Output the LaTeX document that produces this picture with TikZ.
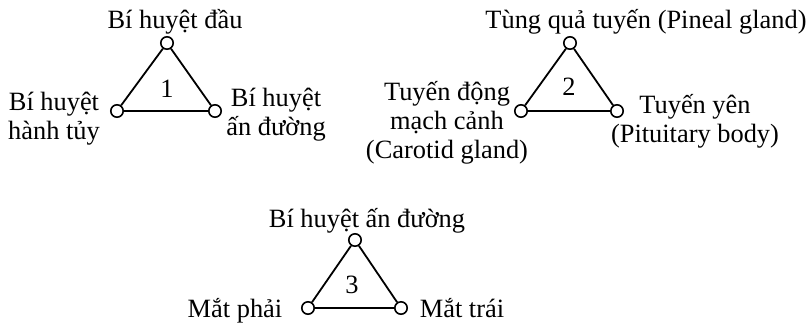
\documentclass[tikz,border=0pt]{standalone}
\usepackage{fontspec}
\setmainfont{Liberation Serif}
\begin{document}
\begin{tikzpicture}[x=0.5pt,y=-0.5pt,
  vtx/.style={circle,draw,line width=0.8pt,minimum size=6.2pt,inner sep=0pt,fill=white},
  edge/.style={line width=0.9pt},
  lbl/.style={font=\fontsize{13.2}{14.5}\selectfont,inner sep=0pt,anchor=base,align=center}]
\useasboundingbox (0,0) rectangle (812,323);
% Triangle 1
\node[vtx] (a1) at (167,43) {};
\node[vtx] (b1) at (117,111) {};
\node[vtx] (c1) at (215,111) {};
\draw[edge] (a1) -- (b1) (b1) -- (c1) (c1) -- (a1);
\node[lbl] (n1) at (167,97) {1};
\node[lbl] (t1) at (175,28) {Bí huyệt đầu};
\node[lbl] (l1) at (54,139) {Bí huyệt\\hành tủy};
\node[lbl] (r1) at (276,135) {Bí huyệt\\ấn đường};
% Triangle 2
\node[vtx] (a2) at (570,43) {};
\node[vtx] (b2) at (521,111) {};
\node[vtx] (c2) at (617,111) {};
\draw[edge] (a2) -- (b2) (b2) -- (c2) (c2) -- (a2);
\node[lbl] (n2) at (569,95) {2};
\node[lbl] (t2) at (646,28) {Tùng quả tuyến (Pineal gland)};
\node[lbl] (l2) at (447,158) {Tuyến động\\mạch cảnh\\(Carotid gland)};
\node[lbl] (r2) at (695,142) {Tuyến yên\\(Pituitary body)};
% Triangle 3
\node[vtx] (a3) at (355,240) {};
\node[vtx] (b3) at (308,308) {};
\node[vtx] (c3) at (401,308) {};
\draw[edge] (a3) -- (b3) (b3) -- (c3) (c3) -- (a3);
\node[lbl] (n3) at (352,293) {3};
\node[lbl] (t3) at (367,227) {Bí huyệt ấn đường};
\node[lbl] (l3) at (235,317) {Mắt phải};
\node[lbl] (r3) at (462,317) {Mắt trái};
\end{tikzpicture}
\end{document}
